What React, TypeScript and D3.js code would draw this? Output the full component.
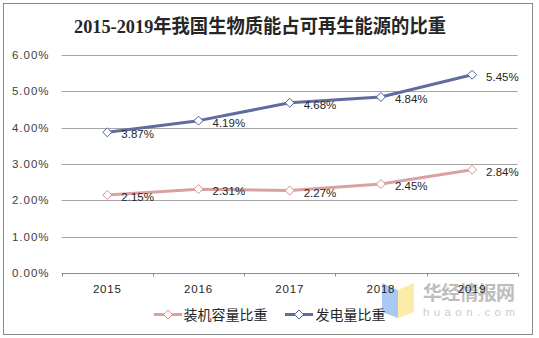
import React from "react";
import * as d3 from "d3";

const years = ["2015", "2016", "2017", "2018", "2019"];
const capacityShare = [2.15, 2.31, 2.27, 2.45, 2.84];
const generationShare = [3.87, 4.19, 4.68, 4.84, 5.45];
const yTicks = [0, 1, 2, 3, 4, 5, 6];
const seriesNames = ["装机容量比重", "发电量比重"];
const title = "2015-2019年我国生物质能占可再生能源的比重";

const W = 539;
const H = 338;
const plot = { left: 61.7, right: 517.7, top: 54.7, bottom: 273.3 };

const seriesStyles = [
  { line: "#d9a2a2", marker: "#df8c8c" },
  { line: "#5f6d9d", marker: "#4f5f9d" },
];

function diamond(cx: number, cy: number, r: number) {
  return `M${cx},${cy - r}L${cx + r},${cy}L${cx},${cy + r}L${cx - r},${cy}Z`;
}

export default function App() {
  const x = d3.scaleBand<string>().domain(years).range([plot.left, plot.right]);
  const y = d3.scaleLinear().domain([0, 6]).range([plot.bottom, plot.top]);
  const cx = (d: string) => (x(d) as number) + x.bandwidth() / 2;
  const series = [capacityShare, generationShare];
  const line = d3
    .line<number>()
    .x((_, i) => cx(years[i]))
    .y((v) => y(v));

  const font = "'Liberation Sans', Arial, 'Noto Sans CJK SC', sans-serif";
  const boundaries = [...years.map((d) => x(d) as number), plot.right];

  const legendItems = [
    { x0: 154, tx: 183.5 },
    { x0: 285, tx: 315.5 },
  ];

  return (
    <svg
      width={W}
      height={H}
      style={{ position: "absolute", left: 0, top: 0 }}
      fontFamily={font}
    >
      <rect x={0} y={0} width={W} height={H} fill="#fff" />
      <rect x={3.5} y={3.5} width={529} height={331} fill="#fff" stroke="#8a8a8a" strokeWidth={1} />

      {/* watermark */}
      <g>
        <polygon points="382,283 398,290 398,318 382,312" fill="#a9c9f2" />
        <polygon points="398,290 414,283 414,312 398,318" fill="#fdebaa" />
        <text x={423} y={300} fontSize={19} fontWeight="bold" fill="#bdbdbd" fontFamily="'Noto Sans CJK SC', sans-serif" textLength={92}>
          华经情报网
        </text>
        <text x={423} y={316} fontSize={11.5} fill="#cccccc" textLength={92} lengthAdjust="spacing">
          huaon.com
        </text>
      </g>

      <text
        x={260}
        y={33}
        textAnchor="middle"
        fontSize={19}
        fontWeight="bold"
        fill="#262626"
        fontFamily="'Liberation Serif', 'Noto Sans CJK SC', serif"
        textLength={372}
        lengthAdjust="spacingAndGlyphs"
      >
        {title}
      </text>

      {/* gridlines */}
      {yTicks.map((t) => (
        <g key={t}>
          <line
            x1={plot.left}
            x2={plot.right}
            y1={Math.round(y(t)) + 0.5}
            y2={Math.round(y(t)) + 0.5}
            stroke={t === 0 ? "#8c8c8c" : "#a6a6a6"}
            strokeWidth={1}
          />
          <text x={49.5} y={y(t) + 4} textAnchor="end" fontSize={11.5} letterSpacing={1} fill="#404040">
            {t.toFixed(2) + "%"}
          </text>
        </g>
      ))}

      {/* category ticks */}
      {boundaries.map((b, i) => (
        <line
          key={i}
          x1={Math.round(b) + 0.5}
          x2={Math.round(b) + 0.5}
          y1={Math.round(plot.bottom) + 0.5}
          y2={Math.round(plot.bottom) + 3.5}
          stroke="#8c8c8c"
        />
      ))}
      {years.map((d) => (
        <text key={d} x={cx(d)} y={293} textAnchor="middle" fontSize={11.5} letterSpacing={0.8} fill="#262626">
          {d}
        </text>
      ))}

      {/* series */}
      {series.map((vals, si) => (
        <g key={si}>
          <path d={line(vals) || ""} fill="none" stroke={seriesStyles[si].line} strokeWidth={3} strokeLinejoin="round" />
          {vals.map((v, i) => (
            <path
              key={i}
              d={diamond(cx(years[i]), y(v), 4.5)}
              fill="#fff"
              stroke={seriesStyles[si].marker}
              strokeWidth={1}
            />
          ))}
          {vals.map((v, i) => (
            <text key={"l" + i} x={cx(years[i]) + 14} y={y(v) + 6} fontSize={11.5} fill="#262626">
              {v.toFixed(2) + "%"}
            </text>
          ))}
        </g>
      ))}

      {/* legend */}
      {legendItems.map((it, si) => (
        <g key={si}>
          <line x1={it.x0} x2={it.x0 + 28} y1={314.5} y2={314.5} stroke={seriesStyles[si].line} strokeWidth={3} />
          <path d={diamond(it.x0 + 14, 314.5, 4.5)} fill="#fff" stroke={seriesStyles[si].marker} strokeWidth={1} />
          <text x={it.tx} y={320} fontSize={14} fill="#262626" fontFamily="'Noto Sans CJK SC', sans-serif">
            {seriesNames[si]}
          </text>
        </g>
      ))}
    </svg>
  );
}
